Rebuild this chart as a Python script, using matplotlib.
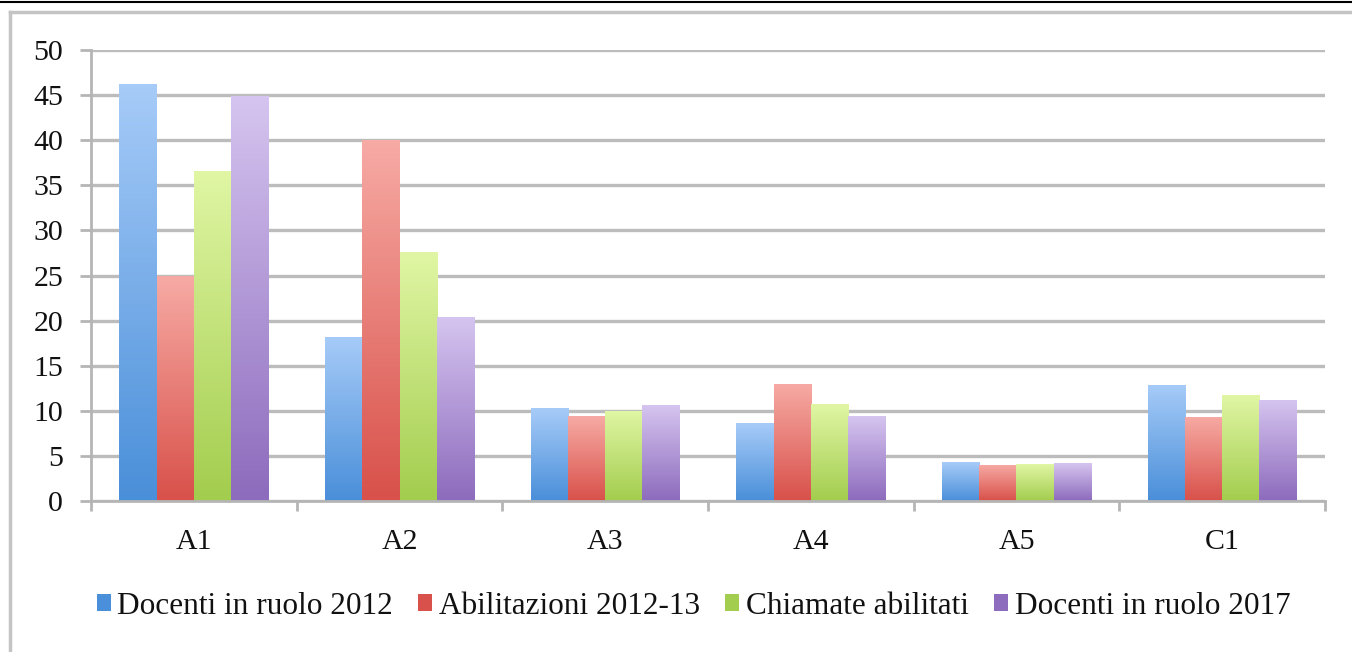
import numpy as np
import matplotlib
matplotlib.use("Agg")
import matplotlib.pyplot as plt
from matplotlib.colors import LinearSegmentedColormap
from matplotlib.patches import Rectangle
from matplotlib.lines import Line2D

categories = ["A1", "A2", "A3", "A4", "A5", "C1"]
series_names = ["Docenti in ruolo 2012", "Abilitazioni 2012-13",
                "Chiamate abilitati", "Docenti in ruolo 2017"]
docenti_2012 = [46.2, 18.2, 10.3, 8.6, 4.3, 12.9]
abilitazioni = [24.9, 40.0, 9.4, 13.0, 4.0, 9.35]
chiamate = [36.6, 27.6, 10.0, 10.75, 4.1, 11.75]
docenti_2017 = [44.9, 20.4, 10.6, 9.4, 4.2, 11.2]
y_ticks = [0, 5, 10, 15, 20, 25, 30, 35, 40, 45, 50]

series = [docenti_2012, abilitazioni, chiamate, docenti_2017]
grad = [("#a6cbf8", "#4a8fd9"), ("#f7aaa4", "#d8514a"),
        ("#e0f6a4", "#a3cd4e"), ("#d5c4ef", "#8d6bbd")]

plt.rcParams['font.family'] = ['Liberation Serif', 'DejaVu Serif']
FS = 21.5

fig = plt.figure(figsize=(13.52, 6.52), dpi=100)
ax = fig.add_axes([91/1352, 1-501/652, (1325-91)/1352, (501-50)/652])

n = len(series)
bw = 0.181
x = np.arange(len(categories))
for i, (vals, (ctop, cbot)) in enumerate(zip(series, grad)):
    cmap = LinearSegmentedColormap.from_list(f"g{i}", [cbot, ctop])
    xs = x + (i - (n - 1) / 2) * bw
    bars = ax.bar(xs, vals, width=bw, color="none", edgecolor="none", zorder=3)
    for b in bars:
        x0, h, w = b.get_x(), b.get_height(), b.get_width()
        g = np.linspace(0, 1, 100).reshape(-1, 1)
        im = ax.imshow(g, extent=[x0, x0 + w, 0, h], origin="lower",
                       aspect="auto", cmap=cmap, zorder=3, interpolation="bicubic")
        im.set_clip_path(b)

ax.set_xlim(-0.5, len(categories) - 0.5)
ax.set_ylim(0, 50)
ax.set_yticks(y_ticks)
ax.set_yticklabels([str(t) for t in y_ticks])
ax.set_xticks(x)
ax.set_xticklabels(categories)
ax.set_xticks(np.arange(-0.5, len(categories), 1), minor=True)
ax.tick_params(axis="x", which="major", length=0, pad=20, labelsize=FS, colors="#111111")
ax.tick_params(axis="x", which="minor", length=7, width=2, color="#b5b5b5")
ax.tick_params(axis="y", length=8, width=2, color="#b5b5b5", labelsize=FS,
               labelcolor="#111111", pad=12)
ax.yaxis.grid(True, color="#bcbcbc", linewidth=2.4, zorder=0)
ax.set_axisbelow(True)
for s in ["top", "right"]:
    ax.spines[s].set_visible(False)
for s in ["left", "bottom"]:
    ax.spines[s].set_color("#b5b5b5")
    ax.spines[s].set_linewidth(2)
ax.spines["bottom"].set_zorder(4)

handles = [Rectangle((0, 0), 1, 1, facecolor=c[1], edgecolor="none") for c in grad]
leg = fig.legend(handles, series_names, loc="center", bbox_to_anchor=(0.513, 1-606/652),
                 ncol=4, frameon=False, fontsize=22.5, handlelength=0.45, handleheight=0.45,
                 handletextpad=0.22, columnspacing=0.8)
for t in leg.get_texts():
    t.set_color("#111111")

# outer frame
fig.add_artist(Line2D([10/1352, 10/1352], [0, 1-12/652], color="#c4c4c4", lw=2.5))
fig.add_artist(Line2D([10/1352, 1], [1-12/652, 1-12/652], color="#c4c4c4", lw=2.5))
fig.add_artist(Line2D([0, 1], [1-2/652, 1-2/652], color="black", lw=1.5))

fig.savefig("out.png", dpi=100)
